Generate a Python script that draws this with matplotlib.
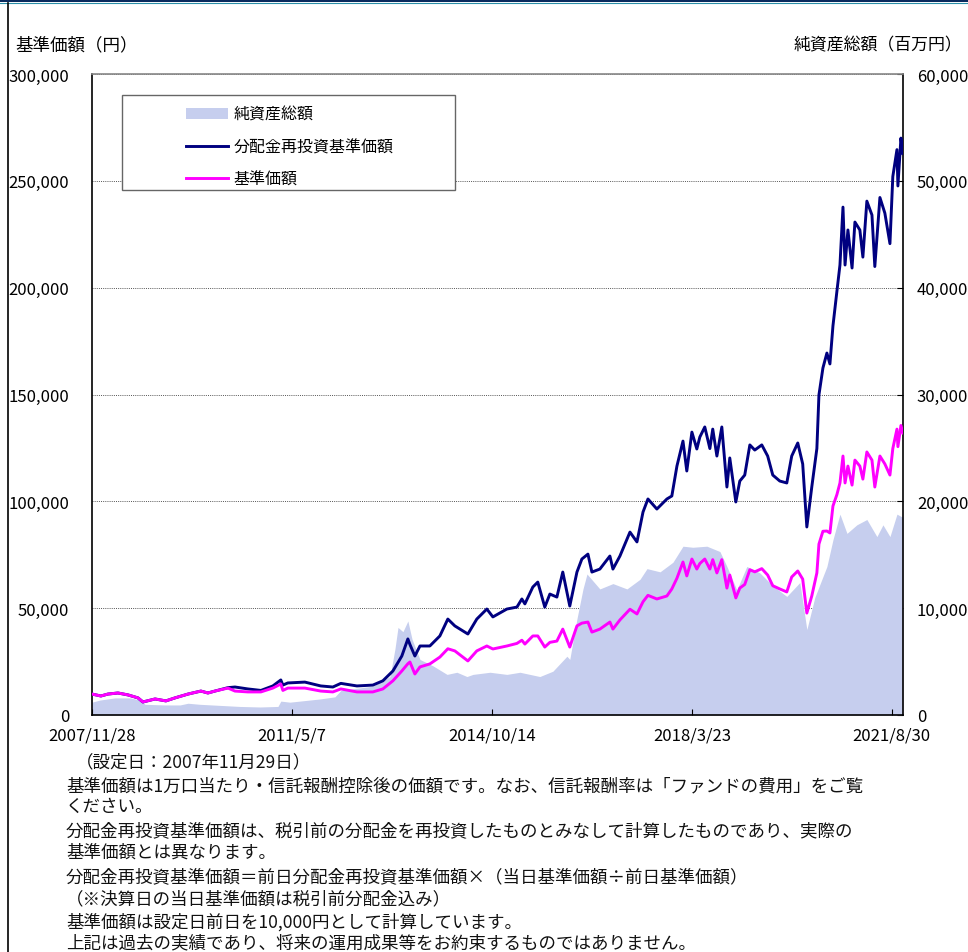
import matplotlib
matplotlib.use('Agg')
import matplotlib.pyplot as plt
import matplotlib.dates as mdates
import pandas as pd
from matplotlib.patches import Rectangle
from matplotlib.lines import Line2D

plt.rcParams['font.family'] = ['Noto Sans CJK JP', 'DejaVu Sans']

# ---------------- data ----------------
line_dates = [
    "2007-11-28", "2008-01-23", "2008-03-07", "2008-05-09", "2008-07-11", "2008-09-12",
    "2008-10-13", "2008-12-28", "2009-03-06", "2009-05-02", "2009-07-23", "2009-10-12",
    "2009-11-25", "2010-01-08", "2010-03-31", "2010-05-14", "2010-08-03", "2010-10-24",
    "2011-01-07", "2011-02-26", "2011-03-11", "2011-04-11", "2011-07-27", "2011-11-04",
    "2012-01-19", "2012-03-09", "2012-06-18", "2012-09-26", "2012-11-28", "2013-01-30",
    "2013-03-27", "2013-05-04", "2013-05-17", "2013-06-17", "2013-07-19", "2013-09-19",
    "2013-11-21", "2014-01-10", "2014-02-23", "2014-05-16", "2014-07-11", "2014-09-12",
    "2014-10-20", "2015-01-16", "2015-03-20", "2015-04-20", "2015-05-09", "2015-06-28",
    "2015-07-29", "2015-09-11", "2015-10-13", "2015-11-26", "2016-01-02", "2016-02-15",
    "2016-03-31", "2016-05-01", "2016-06-08", "2016-07-03", "2016-08-22", "2016-10-24",
    "2016-11-12", "2016-12-26", "2017-02-27", "2017-04-12", "2017-05-20", "2017-06-20",
    "2017-08-15", "2017-10-17", "2017-11-17", "2017-12-19", "2018-01-26", "2018-02-19",
    "2018-03-23", "2018-04-23", "2018-05-12", "2018-06-12", "2018-07-14", "2018-08-01",
    "2018-08-27", "2018-09-27", "2018-10-29", "2018-11-16", "2018-12-24", "2019-01-18",
    "2019-02-18", "2019-03-22", "2019-04-22", "2019-06-05", "2019-07-12", "2019-08-13",
    "2019-09-26", "2019-11-09", "2019-12-10", "2020-01-17", "2020-02-17", "2020-03-14",
    "2020-04-14", "2020-05-16", "2020-05-29", "2020-06-23", "2020-07-18", "2020-08-06",
    "2020-08-25", "2020-09-19", "2020-10-08", "2020-10-27", "2020-11-09", "2020-11-27",
    "2020-12-23", "2021-01-10", "2021-02-10", "2021-03-01", "2021-03-26", "2021-04-27",
    "2021-05-15", "2021-06-16", "2021-07-17", "2021-08-18", "2021-09-05", "2021-10-01",
    "2021-10-07", "2021-10-26", "2021-11-07",
]

# 基準価額 (円)
nav = [
    9800, 8900, 9800, 10300, 9400, 8000,
    6100, 7500, 6600, 8000, 9800, 11200,
    10300, 11200, 12600, 11200, 10800, 10800,
    12600, 14500, 11500, 12600, 12600, 11200,
    10800, 12200, 10800, 10800, 12200, 16000,
    20600, 24000, 24800, 19200, 22500, 23900,
    27100, 31000, 30000, 25300, 30000, 32300,
    30900, 32300, 33500, 35000, 33200, 37000,
    37000, 31800, 34000, 34600, 40200, 31800,
    41700, 43000, 43500, 38800, 40200, 43500,
    40200, 44500, 49500, 47300, 53000, 56000,
    54300, 55700, 59000, 64000, 71600, 65100,
    73000, 68300, 70900, 73000, 68300, 72700,
    66500, 72700, 59400, 65500, 54800, 59400,
    61100, 68000, 67000, 68500, 65500, 60500,
    59000, 57600, 64600, 67400, 63600, 47700,
    55700, 66500, 80000, 86000, 86100, 85200,
    97800, 103200, 108600, 121200, 108600, 116500,
    107600, 119300, 116500, 110400, 123100, 119300,
    106700, 121200, 117500, 112300, 124700, 133800,
    125600, 135500, 132000,
]

# 分配金再投資基準価額 (円)
reinvested = [
    9800, 8900, 9800, 10300, 9400, 8000,
    6100, 7500, 6600, 8000, 9800, 11200,
    10300, 11200, 12800, 13100, 12200, 11500,
    13600, 16400, 14000, 15000, 15400, 13600,
    13100, 14800, 13600, 14000, 16000, 20600,
    27600, 35600, 33000, 27600, 32300, 32300,
    37000, 44900, 41700, 37900, 44900, 49600,
    45900, 49600, 50500, 54300, 52000, 59900,
    62200, 50500, 56600, 55200, 66900, 51000,
    66900, 73000, 75300, 66900, 68300, 74400,
    68300, 74400, 85600, 81000, 95000, 101100,
    96400, 101100, 102500, 116500, 128200, 114200,
    132400, 124500, 130100, 134800, 124700, 133800,
    121200, 134800, 106700, 120300, 99700, 109500,
    112300, 126400, 124000, 126400, 121200, 112300,
    109500, 108600, 121200, 127300, 117500, 88000,
    106700, 124700, 149800, 162400, 169400, 164300,
    182100, 198400, 210600, 237700, 210600, 227000,
    209200, 230700, 227000, 214300, 240500, 234000,
    209900, 242200, 234900, 220600, 252000, 264600,
    247600, 270000, 262800,
]

aum_dates = [
    "2007-11-28", "2008-01-17", "2008-04-20", "2008-07-24", "2008-09-25", "2008-10-26",
    "2009-03-01", "2009-06-03", "2009-07-23", "2009-10-06", "2010-06-14", "2010-10-18",
    "2011-02-08", "2011-02-26", "2011-04-24", "2011-10-29", "2012-02-01", "2012-03-09",
    "2012-09-26", "2013-01-12", "2013-02-12", "2013-03-03", "2013-04-03", "2013-05-04",
    "2013-05-30", "2013-07-19", "2013-10-09", "2014-01-05", "2014-03-08", "2014-05-10",
    "2014-06-17", "2014-10-02", "2015-01-16", "2015-04-08", "2015-08-11", "2015-11-01",
    "2016-01-28", "2016-02-15", "2016-03-31", "2016-05-08", "2016-06-02", "2016-08-22",
    "2016-11-12", "2017-02-08", "2017-05-01", "2017-06-14", "2017-09-04", "2017-11-24",
    "2018-01-26", "2018-03-29", "2018-06-25", "2018-09-15", "2018-10-29", "2018-12-30",
    "2019-03-03", "2019-05-24", "2019-08-13", "2019-11-09", "2020-01-30", "2020-03-14",
    "2020-05-03", "2020-07-18", "2020-08-25", "2020-10-08", "2020-11-21", "2021-01-22",
    "2021-03-26", "2021-05-28", "2021-07-05", "2021-08-18", "2021-10-01", "2021-11-07",
]

# 純資産総額 (百万円)
aum = [
    1200, 1400, 1600, 1600, 1400, 1000,
    940, 940, 1100, 1000, 800, 750,
    800, 1300, 1200, 1500, 1700, 2300,
    2700, 3600, 6200, 8200, 7800, 8800,
    7100, 5200, 4600, 3800, 4000, 3600,
    3800, 4000, 3800, 4000, 3600, 4100,
    5500, 5200, 9000, 11800, 13200, 11800,
    12300, 11800, 12700, 13700, 13400, 14300,
    15800, 15700, 15800, 15300, 13900, 11700,
    13900, 13300, 12100, 11100, 12400, 8000,
    11000, 13900, 16400, 18800, 17000, 17800,
    18300, 16700, 17800, 16700, 18800, 18500,
]

x_tick_dates = ["2007-11-28", "2011-05-07", "2014-10-14", "2018-03-23", "2021-08-30"]
x_tick_labels = ["2007/11/28", "2011/5/7", "2014/10/14", "2018/3/23", "2021/8/30"]
left_ticks = [0, 50000, 100000, 150000, 200000, 250000, 300000]
left_labels = ["0", "50,000", "100,000", "150,000", "200,000", "250,000", "300,000"]
right_ticks = [0, 10000, 20000, 30000, 40000, 50000, 60000]
right_labels = ["0", "10,000", "20,000", "30,000", "40,000", "50,000", "60,000"]

legend_labels = ["純資産総額", "分配金再投資基準価額", "基準価額"]

notes = [
    "（設定日：2007年11月29日）",
    "基準価額は1万口当たり・信託報酬控除後の価額です。なお、信託報酬率は「ファンドの費用」をご覧",
    "ください。",
    "分配金再投資基準価額は、税引前の分配金を再投資したものとみなして計算したものであり、実際の",
    "基準価額とは異なります。",
    "分配金再投資基準価額＝前日分配金再投資基準価額×（当日基準価額÷前日基準価額）",
    "（※決算日の当日基準価額は税引前分配金込み）",
    "基準価額は設定日前日を10,000円として計算しています。",
    "上記は過去の実績であり、将来の運用成果等をお約束するものではありません。",
]

# ---------------- figure ----------------
W, H = 968, 953
fig = plt.figure(figsize=(W / 100, H / 100), dpi=100)
fig.patch.set_facecolor('white')


def fx(px):
    return px / W


def fy(py):
    return 1 - py / H


ax = fig.add_axes([fx(92), fy(716), fx(903) - fx(92), fy(75) - fy(716)])
ax2 = ax.twinx()
ax.set_zorder(ax2.get_zorder() + 1)
ax.patch.set_visible(False)
ax2.patch.set_visible(True)
ax2.patch.set_facecolor('white')

ld = pd.to_datetime(line_dates)
ad = pd.to_datetime(aum_dates)

area_color = '#C6CEEE'
area = ax2.fill_between(ad, aum, 0, color=area_color, lw=0, zorder=1)
ax2.set_ylim(0, 60000)
ax2.set_yticks(right_ticks)
ax2.set_yticklabels(right_labels)
ax2.set_axisbelow(True)
ax2.yaxis.grid(True, linestyle=(0, (1, 1.2)), color='#555555', lw=0.7)
for s in ax2.spines.values():
    s.set_visible(False)
ax2.tick_params(axis='y', direction='in', length=4, pad=10, labelsize=12,
                colors='black')

l1, = ax.plot(ld, reinvested, color='#000080', lw=2.1, zorder=3)
l2, = ax.plot(ld, nav, color='#FF00FF', lw=2.1, zorder=4)
ax.set_ylim(0, 300000)
ax.set_yticks(left_ticks)
ax.set_yticklabels(left_labels)
ax.set_xlim(pd.Timestamp("2007-11-28"), pd.Timestamp("2021-11-08"))
ax.set_xticks(pd.to_datetime(x_tick_dates))
ax.set_xticklabels(x_tick_labels)
ax.tick_params(axis='y', direction='in', length=0, pad=16.5, labelsize=12)
ax.tick_params(axis='x', direction='in', length=4, pad=8, labelsize=12)

for k in ['left', 'bottom', 'right']:
    ax.spines[k].set_color('black')
    ax.spines[k].set_linewidth(1.2)
ax.spines['top'].set_color('#888888')
ax.spines['top'].set_linewidth(1.2)

# legend box
box = Rectangle((fx(122), fy(191)), fx(455) - fx(122), fy(96) - fy(191),
                transform=fig.transFigure, facecolor='white', edgecolor='#666666',
                lw=1.0, zorder=6)
ax.add_patch(box)
leg = ax.legend([area, l1, l2], legend_labels, loc='upper left',
                bbox_to_anchor=(fx(186), fy(107)), bbox_transform=fig.transFigure,
                frameon=False, borderpad=0, borderaxespad=0, handlelength=2.6,
                handletextpad=0.35, labelspacing=0.95, fontsize=11.5)
leg.set_zorder(7)

# axis titles
fig.text(fx(15), fy(45), "基準価額（円）", fontsize=12.6, ha='left', va='center')
fig.text(fx(962), fy(45), "純資産総額（百万円）", fontsize=12.2, ha='right', va='center')

# footnotes
note_pos = [(76, 762), (66, 786), (66, 807), (66, 831), (66, 853), (66, 877),
            (66, 899), (66, 922), (66, 943)]
for txt, (px, py) in zip(notes, note_pos):
    fig.text(fx(px), fy(py), txt, fontsize=12.6, ha='left', va='center', color='#111111')

# outer frame decorations
fig.add_artist(Rectangle((0, fy(3)), 1, 3 / H, transform=fig.transFigure,
                         facecolor='#0A2A5E', edgecolor='none'))
fig.add_artist(Line2D([0, 1], [fy(3.5), fy(3.5)], transform=fig.transFigure,
                      color='#2A8FA8', lw=0.8))
fig.add_artist(Line2D([fx(7.5), fx(7.5)], [0, fy(4)], transform=fig.transFigure,
                      color='black', lw=1.2))

fig.savefig('out.png', dpi=100, facecolor='white')
